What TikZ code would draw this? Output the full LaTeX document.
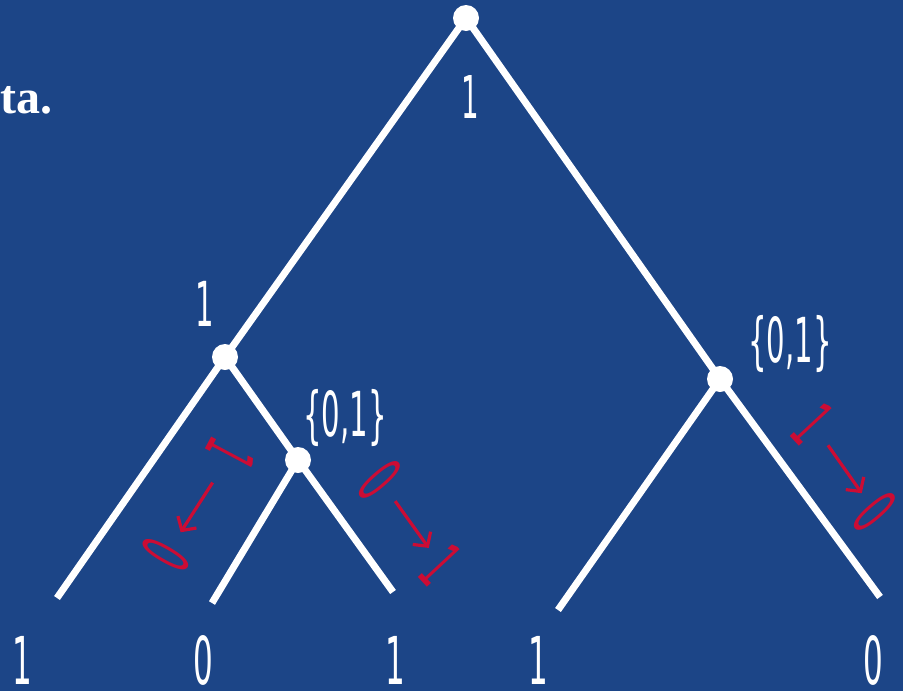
\documentclass[tikz,border=0pt]{standalone}
\usepackage{fontspec}
\setmainfont{Liberation Serif}
\newfontfamily\handfont{DejaVu Sans}
\usetikzlibrary{arrows.meta}

\definecolor{slideblue}{RGB}{28,69,135}
\definecolor{markred}{RGB}{204,12,52}
\newcommand{\hw}[1]{\scalebox{0.47}[1]{#1}}

\tikzset{
  edge/.style={white, line width=7pt},
  dot/.style={circle, fill=white, minimum size=26pt, inner sep=0pt},
  lbl/.style={white, inner sep=0pt, font=\handfont\fontsize{62}{62}\selectfont},
  redlbl/.style={markred, inner sep=0pt, font=\handfont\fontsize{68}{68}\selectfont},
  redarr/.style={markred, line width=3.2pt, -{Straight Barb[length=10pt,width=22pt]}}
}

\begin{document}
\begin{tikzpicture}[x=1pt,y=-1pt]
\fill[slideblue] (0,0) rectangle (903,691);
\useasboundingbox (0,0) rectangle (903,691);

\node[anchor=base east, white, inner sep=0pt, font=\bfseries\fontsize{48}{48}\selectfont] (title) at (53,113) {ta.};

% Baum
\coordinate (root) at (466,18);
\coordinate (l) at (225,357);
\coordinate (lr) at (298,460);
\coordinate (r) at (720,379);
\coordinate (l1) at (57,598);
\coordinate (l2) at (212,603);
\coordinate (l3) at (393,592);
\coordinate (r1) at (558,610);
\coordinate (r2) at (880,597);

\draw[edge] (l1) -- (l) -- (root) -- (r) -- (r2);
\draw[edge] (l) -- (lr) -- (l3);
\draw[edge] (lr) -- (l2);
\draw[edge] (r) -- (r1);

\foreach \p in {root,l,lr,r}
  \node[dot] (\p-dot) at (\p) {};

% Werte
\node[lbl, font=\handfont\fontsize{59}{59}\selectfont] (rootval) at (470,97) {\hw{1}};
\node[lbl] (lval) at (205,304) {\hw{1}};
\node[lbl] (lrval) at (345,418) {\hw{\{0,1\}}};
\node[lbl] (rval) at (790,344) {\hw{\{0,1\}}};

\foreach \x/\v [count=\i] in {22/1,203/0,395/1,538/1,873/0}
  \node[lbl, font=\handfont\fontsize{66}{66}\selectfont] (leaf\i) at (\x,660) {\hw{\v}};

% Umbenennungen
\node[redlbl, rotate=-118] (m1a) at (231,454) {\hw{1}};
\node[redlbl, rotate=-120] (m1b) at (166,555) {\hw{0}};
\draw[redarr, shorten <=34pt, shorten >=27pt] (m1a.center) -- (m1b.center);

\node[redlbl, rotate=-49] (m2a) at (380,480) {\hw{0}};
\node[redlbl, rotate=-47] (m2b) at (441,565) {\hw{1}};
\draw[redarr, shorten <=26pt, shorten >=21pt] (m2a.center) -- (m2b.center);

\node[redlbl, rotate=-47] (m3a) at (813,424) {\hw{1}};
\node[redlbl, rotate=-49] (m3b) at (875,512) {\hw{0}};
\draw[redarr, shorten <=26pt, shorten >=23pt] (m3a.center) -- (m3b.center);
\end{tikzpicture}
\end{document}
